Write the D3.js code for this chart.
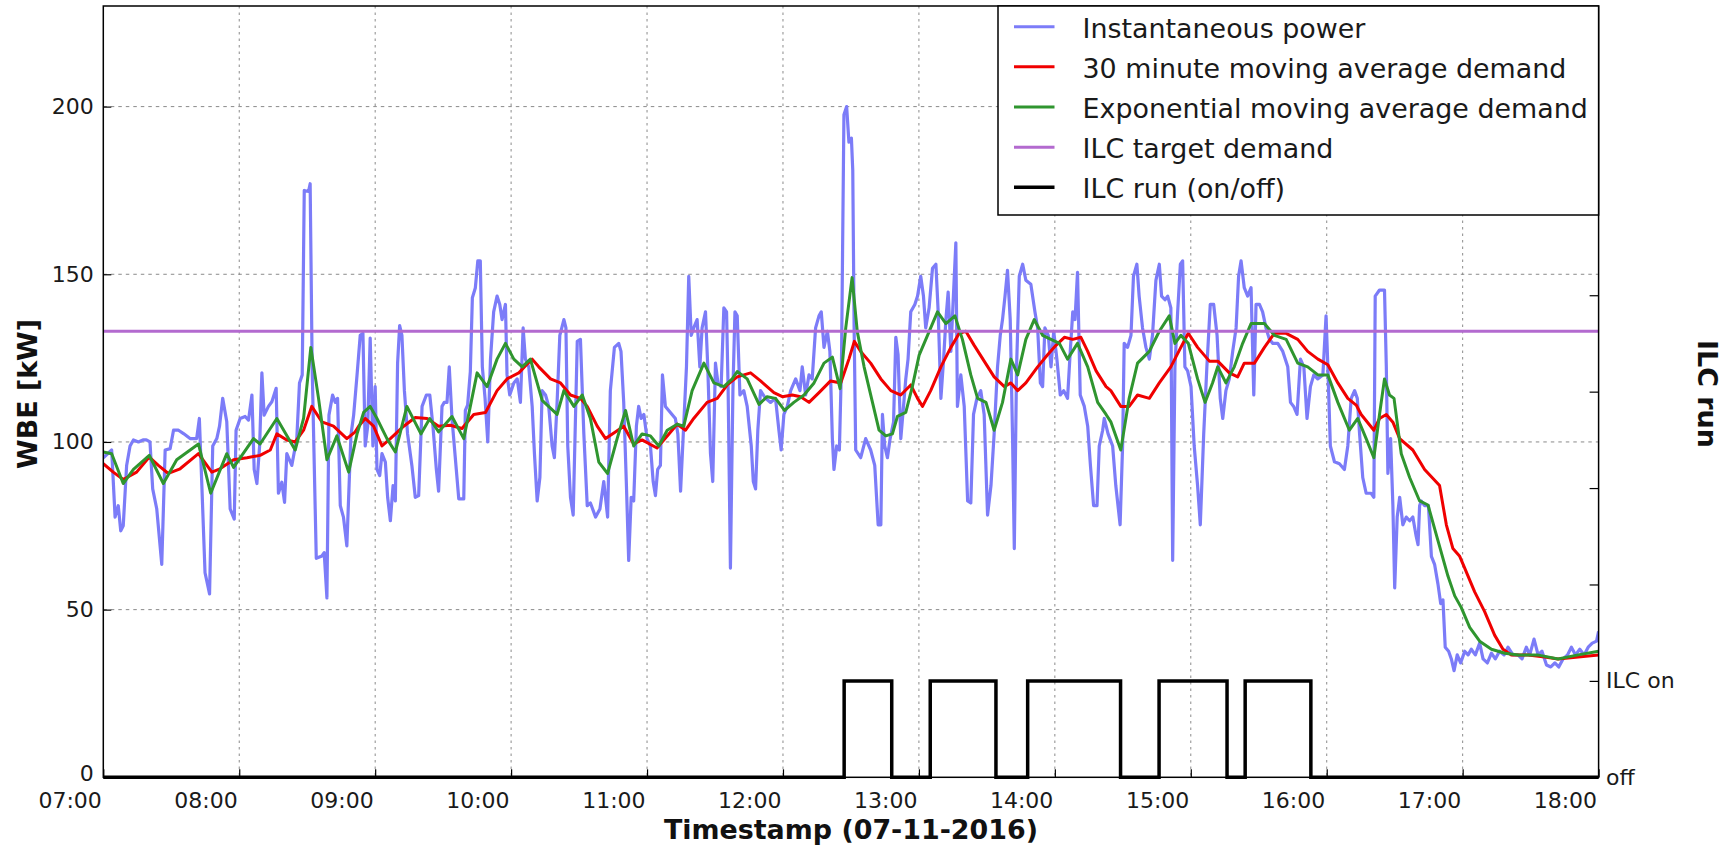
<!DOCTYPE html>
<html><head><meta charset="utf-8">
<script src="https://cdn.jsdelivr.net/npm/d3@7"></script>
<style>body{margin:0;background:#fff} text{font-family:"DejaVu Sans",sans-serif}</style>
</head><body>
<svg id="c" width="1729" height="848"></svg>
<script>
// ---- data (time = minutes after 07:00, value = kW) ----
const powerSeries = [[0,95.3],[3.7,97.6],[5.2,77.6],[6.6,81],[7.7,73.5],[8.8,75],[10.3,93],[11.8,98.8],[13.3,100.6],[15.5,100],[17.5,100.6],[19,100.6],[20.6,100],[21.8,86],[23.6,80],[25.8,63.5],[27.3,97.6],[29.5,98],[31,103.5],[33.2,103.5],[35.4,102.5],[38.3,101],[41.2,101],[42.4,107],[43.5,87],[44.9,61],[46.9,54.7],[48.3,98.8],[50.1,101],[51.3,104.7],[52.7,113],[54.5,106],[56,80],[57.8,77],[58.6,103.5],[60.4,107],[62.6,107.6],[64.1,106.5],[65.6,114],[66.6,91.8],[67.8,87.6],[69,98.8],[70,120.6],[71,108],[72.9,110.6],[74.4,112],[76.3,116],[77.3,84.7],[78.8,88],[80,82],[81,96.5],[83.2,93],[85.4,101],[86.6,117.6],[87.8,120],[88.7,175],[90.6,174.7],[91.3,177],[92.2,122],[94,65.3],[96.5,66],[97.5,67],[98.7,53.5],[99.6,108],[101.2,114],[102.4,111.8],[103.4,113],[104.6,81],[106,77.6],[107.5,69],[109.3,102],
[110.5,108],[112,120],[113.4,131.8],[114.6,132.4],[115.6,98.8],[116.7,104.7],[117.8,131],[119,98.8],[120,116.5],[120.8,91.8],[122,90],[123,96.5],[124.5,94],[125.5,83.5],[126.7,76.5],[127.9,87],[128.9,82.4],[129.9,123.5],[130.8,134.7],[131.8,131.8],[132.9,115.3],[134.3,102.4],[136.2,93],[137.7,83.5],[139.2,84],[140.7,110.6],[142.6,114],[144.1,114],[145.5,104.7],[147,91.8],[148,85.3],[149.5,110.6],[150.5,111.8],[151.7,111.8],[152.7,122.4],[153.9,107],[155.8,91.8],[156.9,83],[159.1,83],[159.8,109.4],[160.8,111],[162,121],[162.9,143],[164.2,145.9],[165.3,154],[166.4,154],[167.3,122.4],[168.5,113],[169.7,100],[170.9,124.7],[172.3,138.8],[173.8,143.5],[175,141],[176,136.5],[177.5,141],[178.2,120],[179.4,114],[181.2,117.6],[182.7,118.8],[184.1,111.8],[185.3,134],[186.3,124.7],[187.8,122.4],[189.3,110.6],[190.3,96.5],[191.5,82.4],[192.7,89.4],[193.7,115.3],[195.2,114],[196.6,110.6],[198.1,98.8],[199.1,95.3],[200.3,111.8],[201.5,131.8],[203.3,136.5],[204.2,134],[205,98.8],[206.2,83.5],[207.4,78.2],[208.4,107],[209.2,130],[210.6,130.6],[212.1,102.4],[213.6,81],[215,81.8],[217.3,77.6],[219.2,80],[220.9,88.2],[222.6,77.6],
[223.8,115.3],[225.6,128.2],[227.5,129.4],[228.5,127],[229.7,111.8],[230.9,87],[231.9,64.7],[233,83.5],[234.1,82.4],[235.3,104.7],[236.3,110.6],[237.4,107],[238.6,108.2],[240,101],[241.5,98.8],[242.7,88.2],[243.7,84],[244.7,91.8],[245.9,93],[246.8,120],[248.1,110.6],[250.3,108.8],[252.5,107],[253.6,102.4],[254.8,85.3],[255.9,101],[257.4,122.4],[258.4,149.4],[259.5,131.8],[260.6,134],[262.1,136.5],[263.3,122.4],[264.3,134],[265.8,138.8],[266.8,122.4],[268,96.5],[269,88.2],[270.2,123.5],[271.3,117.6],[272.7,116.5],[273.9,140],[275.1,138.8],[275.8,115.3],[276.8,62.4],[277.9,115.3],[278.8,138.8],[279.8,137.6],[281,114],[282.7,115.3],[284.2,110.6],[286,98.8],[286.9,88.2],[287.9,86],[288.9,103.5],[290.1,115.3],[292.3,113],[294.5,111.8],[296.7,113],[298.2,103.5],[299.2,97.6],[300.4,108.2],[301.9,110.6],[303.4,115.3],[305.6,118.8],[307.5,115.3],[308.5,122.4],[310,114],[311.5,120],[312.9,118.8],[314.4,134],[315.9,137.6],[316.9,138.8],[318.1,128.2],[319.6,133],[320.7,127],[321.8,101],[322.5,91.8],[323.7,98.8],[324.9,97.6],[325.8,122.4],[326.9,197.6],[328.1,200],[329.1,189.4],[330.2,190.6],[330.8,181],
[331.4,134],[332.1,97.6],[334.3,95.3],[336.5,101],[338.7,97.6],[340.5,93],[342,75.3],[343.2,75.3],[343.9,108.2],[344.9,98.8],[346.1,95.3],[347.3,101],[348.8,105.9],[349.8,131.2],[350.8,126],[352,101],[353.2,110.6],[354.2,118.8],[355.2,124.7],[356.4,138.8],[358.2,141],[359.4,143.5],[360.8,149.4],[362,143.5],[363,134],[364.5,140],[366,151.8],[367.5,153],[368.5,138.8],[369.7,113],[370.9,124.7],[371.9,136.5],[372.9,144.7],[374.1,127],[375.3,144.7],[376.3,159.4],[377,110.6],[378.5,120],[380,110.6],[381.5,82.4],[382.9,81.8],[384.1,108.2],[385.6,113],[387.3,115.3],[388.8,108.2],[390.3,78.2],[391.8,87],[393.2,102.4],[394.7,122.4],[395.9,131.8],[396.9,136.5],[398,143.5],[399.1,151.2],[400.3,136.5],[401.3,102.4],[402.1,68.2],[403.1,122.4],[404.3,149.4],[405.8,153],[407.2,148.2],[409.4,147],[411.2,138.8],[412.4,134],[413.6,117.6],[414.6,116.5],[415.6,134],[417.1,131.8],[418.3,122.4],[419.5,133],[420.9,124.7],[422.4,114],[423.9,115.3],[425.6,113],[426.8,127],[427.9,138.8],[428.9,136.5],[430,150.6],[431.2,114],[433,110.6],[434.5,104.7],[435.7,93],[437.1,81],[438.6,81],[439.6,98.8],[441.1,103.5],
[441.8,107],[443.5,102.4],[445.5,98.8],[446.9,87],[448.8,75.3],[449.9,98.8],[450.6,129.4],[452.1,128.2],[453.6,131.8],[454.7,149.4],[456.2,153],[457.2,143.5],[458.7,134],[460.2,128.2],[461.7,124.7],[463.1,131.8],[464.6,148.2],[466.1,153],[467.1,143.5],[468.6,142.4],[469.8,143.5],[471.2,140],[472,64.7],[473,122.4],[474.2,138.8],[475.4,153],[476.4,154],[477.4,122.4],[478.6,121.2],[480.1,116.5],[481.5,98.8],[483,87],[484.2,75.3],[485.7,102.4],[487.1,122.4],[488.6,141],[490.1,141],[491.6,131.8],[493,113],[494.1,107],[495.5,115.3],[497,118.8],[498.5,127],[500,134],[501.1,149.4],[502.2,154],[503.6,146],[505.1,143.5],[506.6,146],[507.8,114],[508.8,141],[510.3,141],[511.7,138.8],[513.2,134],[514.7,130.6],[516.2,129.4],[518.4,129.4],[520.6,127],[522.8,122.4],[524,111.8],[525.4,110.6],[526.9,108.2],[528.4,124.7],[529.9,122.4],[531.3,107],[532.8,116.5],[534.3,120],[536,118.8],[538.3,120],[539.7,137.6],[540.5,122.4],[541.6,98.8],[543.4,94.1],[545.6,93.5],[547.8,91.8],[549.3,98.8],[550.8,113],
[552.3,115.3],[553.5,113],[554.5,102.4],[555.9,89.4],[557.4,84.7],[559.6,84.7],[560.8,83.5],[561.4,143.5],[563.3,145.3],[565.5,145.3],[566.3,122.4],[567,90.6],[568.2,101],[569.2,81],[570,56.5],[571.1,77.6],[572.2,83.5],[573.6,75.3],[575.1,77.6],[576.6,76.5],[578,77.6],[579.5,71.8],[580.3,69.4],[581,81],[581.7,82.4],[583.2,81],[584.9,81],[586.2,65.9],[587.6,63.5],[589.1,57.6],[590.3,51.8],[591.3,52.9],[592.3,38.8],[593.8,37.6],[595,35.3],[596.2,31.8],[597.6,36.5],[599.1,34.1],[600.9,37.6],[602.4,36.5],[603.8,38.2],[605.6,36.5],[607.5,40],[609,35.3],[610.9,34.1],[612.7,37],[614.4,35.3],[616.3,37.6],[618.3,36.5],[620,38.8],[622.2,36.5],[624.4,36.5],[626.2,35.3],[628.1,38.8],[629.6,36.5],[631.5,41.2],[633.3,36.5],[635,37.6],[637,33.5],[638.9,32.9],[640.7,34.1],[642.4,32.9],[644.3,35.3],[646.3,36.5],[648,38.8],[649.8,36.5],[651.7,38.2],[653.6,36.5],[655.4,38.8],[657.2,40],[659.1,40.6],[660,43.5]];

const avg30Series = [[0,93.5],[4.4,91],[8.8,88.8],[14.7,91],[20.3,95.5],[24.3,93],[28.7,90.6],[33.9,92],[42,96.5],[47.9,91],[51.5,92],[57.5,94.7],[63.4,95.3],[69.2,96],[73.7,97.6],[76.6,102.4],[81,100.6],[84.7,100],[88.4,103.5],[92,110.6],[96.5,106],[101.6,104.7],[107.5,101],[111.2,103],[112.7,104.7],[115.6,107],[119.3,104.7],[123,98.8],[126.7,101],[132.6,104.7],[137.7,107.3],[142.9,107],[148,104.7],[153.2,105],[158.3,104],[163.5,108.2],[168.7,108.8],[173.8,115.3],[178.2,118.8],[183.4,120.6],[186.8,123],[189.3,124.7],[192.2,122.4],[197.4,118.8],[201.8,117.6],[206.2,114],[210.6,113],[213.6,110.6],[218,104.7],[221.7,101],[226,103],[229.7,104.7],[234.1,99.4],[237.8,100.6],[244.4,98.2],[248.9,101.8],[253.3,105.3],[257,103.5],[260.6,107],[266.5,111.8],[271,113],[275.4,117],[279.8,119.4],[285.7,120.6],[290.1,118.2],[296,114.7],[299.7,113.5],[304.1,114],[307.8,113.5],[311.5,111.8],[315.9,114.7],[321,118.2],[325.5,117.6],[329.1,124.7],[331.5,130],[334.3,127],[338.7,123.5],[343.2,118.8],[347.6,115.3],[352,114],[356.4,117],[359.4,113],[361.6,110.6],[365.2,115.3],[369.7,122.4],[374.1,128.2],[377.8,132.4],[380.7,133],[384.4,128.8],[388.8,124.1],[393.2,119.4],[397.7,116.5],[400.6,117.6],[403.6,115.3],[407.2,117.6],[412.4,122.4],[416.8,126],[420.5,128.8],[424.2,131.2],[427.9,130.6],[431.5,131.2],[434.5,127],[438.2,121.2],[442.6,116.5],[444.7,115.3],[449.1,110.6],[452.8,110.6],[456.5,114],[461.7,113],[466.1,117.6],[471.2,122.4],[475.6,128.2],[478.9,132.4],[483,128.2],[488.2,124.1],[491.9,124.1],[497,120.6],[500.7,119.4],[503.6,123.5],[508.1,123.5],[512.5,128.2],[516.9,132.4],[522.1,132.4],[527.2,130.6],[531.6,127],[536.1,124.7],[540.5,123],[544.9,117.6],[549.3,113],[553,111],[555.2,108.2],[560.8,103.5],[563.3,107],[566.3,108.2],[569.2,105.9],[572.2,101],[578,97.6],[583.2,91.8],[589.8,87],[592.8,75.3],[595.7,68.2],[598.7,65.9],[600.9,62.4],[605.3,55.3],[609.7,49.4],[614.1,42.4],[617.8,38.2],[621.5,36.5],[628.9,36.5],[636.2,35.9],[642.1,35.3],[651,35.9],[660,36.5]];

const emaSeries = [[0,97],[3.7,96.5],[8.8,87.6],[13.3,91.8],[20.3,96],[26.5,87.6],[32.4,94.7],[42,99.4],[47.4,84.7],[54.5,96.5],[57.5,92.4],[66.3,101],[69.2,99.4],[76.6,107],[84.7,97.6],[88.4,107],[91.6,128.2],[95,113],[98.7,94.7],[103.1,101.8],[108.3,91],[112,102.4],[114.9,108.8],[117.8,110.6],[120.8,107],[125.2,101],[128.9,97],[134,110.6],[140.2,102.4],[144.1,107],[148,103],[153.9,107.6],[159.1,101],[165,120.6],[169.4,116.5],[173.8,124.7],[177.5,129.4],[181.2,124.7],[184.9,122.4],[188.5,124.7],[193.7,112.4],[200.3,108.2],[203.3,115.3],[207.7,110.6],[211.4,114],[215,107],[218.7,94],[222.6,90.6],[226.8,101],[230.5,109.4],[234.1,98.8],[237.8,102.4],[241.5,101.8],[245.2,98.8],[248.9,103.5],[253.3,105.3],[256.2,104.7],[259.9,115.3],[265.1,123.5],[269.5,117.6],[273.9,116.5],[277.6,118.8],[279.8,121],[284.2,118.8],[289.4,111.2],[293,113.5],[296.7,113],[300.7,109.4],[304.8,111.8],[309.3,114],[313.7,117.6],[318.1,123.5],[321.8,125.3],[325.2,115.9],[327.7,134],[330.5,149],[332.8,132.9],[335.8,122.4],[339.5,111.8],[342.4,103.5],[345.4,101.8],[348.3,102.4],[350.5,107.6],[354.2,108.8],[357.1,116.5],[360.1,125.9],[364.5,132.9],[368.2,138.8],[371.9,135.3],[375.9,137.6],[379.2,130.6],[382.9,120],[385.9,113],[389.6,111.8],[393.2,103.5],[396.9,111.8],[400.6,124.7],[403.6,120],[407.2,130.6],[410.9,136.5],[414.6,131.8],[418.3,130.6],[422,129.4],[425.6,124.7],[430,129.4],[434.5,122.4],[438.9,111.8],[442.6,108.2],[444.7,106],[449.1,97.6],[452.8,113],[456.5,123.5],[461.7,127],[466.1,133],[470.5,137.6],[473,129.4],[475.6,131.8],[478.9,129.4],[483,118.8],[486.3,111.8],[489.6,117.6],[491.9,122.4],[495.5,117.6],[499.2,122.4],[502.9,129.4],[506.6,135.3],[512.5,135.3],[516.9,131.8],[522.1,130.6],[527.2,123.5],[531.6,122.4],[536.1,120],[540.5,120],[544.9,111.8],[550,103.5],[553.7,107],[557.4,101],[560.8,95.3],[563.3,108.2],[565.5,118.8],[567.7,114],[569.7,113],[572.9,96.5],[576.6,89.4],[581,82.4],[584.7,81.2],[589.1,70.6],[593.5,60],[596.5,54.1],[599.4,50.6],[603.1,44.7],[607.5,40.6],[612.7,38.2],[618.6,37],[624.5,36.5],[633,36.5],[642.1,35.3],[651,36.5],[660,37.6]];

const targetDemand = 133;
const ilcTimes  = ["07:00","12:27","12:48","13:05","13:34","13:48","14:29","14:46","15:16","15:24","15:53","18:00"];
const ilcStates = [0,1,0,1,0,1,0,1,0,1,0,0];

const xTickLabels = ["07:00","08:00","09:00","10:00","11:00","12:00","13:00","14:00","15:00","16:00","17:00","18:00"];
const yTicks = [0,50,100,150,200];
const rightTicks = [0,1,2,3,4,5,6,7,8];
const rightTickLabels = ["off","ILC on","","","","","","",""];
const legendLabels = ["Instantaneous power","30 minute moving average demand","Exponential moving average demand","ILC target demand","ILC run (on/off)"];
const xTitle = "Timestamp (07-11-2016)";
const yTitle = "WBE [kW]";
const y2Title = "ILC run";

// ---- layout / styles ----
const L=103.3, R=1598.6, T=6, B=777.3;
const colors = {power:"#7c7cf8", avg:"#f00000", ema:"#2f952f", target:"#b36acf", ilc:"#000"};
const base = new Date(2016,6,11,7,0,0);
const toDate = m => new Date(base.getTime()+m*60000);
const toMin = s => { const p=s.split(":").map(Number); return p[0]*60+p[1]-420; };

const svg = d3.select("#c");
const x = d3.scaleTime().domain([toDate(0), toDate(660)]).range([L,R]);
const y = d3.scaleLinear().domain([0,230]).range([B,T]);
const y2 = d3.scaleLinear().domain([0,8]).range([B,T]);

svg.append("defs").append("clipPath").attr("id","clip")
  .append("rect").attr("x",L).attr("y",T).attr("width",R-L).attr("height",B-T);

// grid
const grid = svg.append("g");
grid.selectAll("line.v").data(xTickLabels.slice(1,-1)).join("line")
  .attr("x1",d=>x(toDate(toMin(d)))).attr("x2",d=>x(toDate(toMin(d))))
  .attr("y1",T).attr("y2",B)
  .attr("stroke","#8a8a8a").attr("stroke-width",1).attr("stroke-dasharray","2.5,4");
grid.selectAll("line.h").data(yTicks.slice(1)).join("line")
  .attr("x1",L).attr("x2",R).attr("y1",d=>y(d)).attr("y2",d=>y(d))
  .attr("stroke","#8a8a8a").attr("stroke-width",1).attr("stroke-dasharray","3.5,4");

// series
const line = d3.line().x(d=>x(toDate(d[0]))).y(d=>y(d[1]));
const plot = svg.append("g").attr("clip-path","url(#clip)");
plot.append("path").datum(powerSeries).attr("d",line).attr("fill","none")
  .attr("stroke",colors.power).attr("stroke-width",3.2).attr("stroke-linejoin","round");
plot.append("path").datum(avg30Series).attr("d",line).attr("fill","none")
  .attr("stroke",colors.avg).attr("stroke-width",3).attr("stroke-linejoin","round");
plot.append("path").datum(emaSeries).attr("d",line).attr("fill","none")
  .attr("stroke",colors.ema).attr("stroke-width",3).attr("stroke-linejoin","round");
plot.append("path").datum([[0,targetDemand],[660,targetDemand]]).attr("d",line).attr("fill","none")
  .attr("stroke",colors.target).attr("stroke-width",3);

const ilcData = ilcTimes.map((t,i)=>({t:toDate(toMin(t)), s:ilcStates[i]}));
const stepLine = d3.line().curve(d3.curveStepAfter).x(d=>x(d.t)).y(d=>y2(d.s));
svg.append("path").datum(ilcData).attr("d",stepLine).attr("fill","none")
  .attr("stroke",colors.ilc).attr("stroke-width",3.5);

// axes
const styleAxis = (g, size) => {
  g.select(".domain").remove();
  g.selectAll(".tick line").attr("stroke","#000").attr("stroke-width",1.2);
  g.selectAll(".tick text").attr("font-size",size).attr("fill","#1a1a1a")
   .attr("font-family","DejaVu Sans");
};
const gl = svg.append("g").attr("transform",`translate(${L},0)`)
  .call(d3.axisLeft(y).tickValues(yTicks).tickSizeInner(-8).tickSizeOuter(0).tickPadding(9.5));
styleAxis(gl,22);
gl.selectAll(".tick text").filter(d=>d===0).attr("dy","0.16em");

const gb = svg.append("g").attr("transform",`translate(0,${B})`)
  .call(d3.axisBottom(x).tickValues(xTickLabels.map(s=>toDate(toMin(s))))
    .tickFormat((d,i)=>xTickLabels[i]).tickSizeInner(-8).tickSizeOuter(0));
styleAxis(gb,22);
gb.selectAll(".tick text").attr("text-anchor","end").attr("x",-2).attr("y",30.5).attr("dy",0);

const gr = svg.append("g").attr("transform",`translate(${R},0)`)
  .call(d3.axisRight(y2).tickValues(rightTicks).tickFormat((d,i)=>rightTickLabels[i])
    .tickSizeInner(-9).tickSizeOuter(0).tickPadding(7.5));
styleAxis(gr,22);

// frame
svg.append("rect").attr("x",L).attr("y",T).attr("width",R-L).attr("height",B-T)
  .attr("fill","none").attr("stroke","#000").attr("stroke-width",1.5);

// titles
svg.append("text").attr("x",(L+R)/2).attr("y",839).attr("text-anchor","middle")
  .attr("font-size",26.9).attr("font-weight","bold").attr("fill","#111").text(xTitle);
svg.append("text").attr("transform","translate(27,394) rotate(-90)").attr("dy","0.36em")
  .attr("text-anchor","middle").attr("font-size",26.9).attr("font-weight","bold").attr("fill","#111").text(yTitle);
svg.append("text").attr("transform","translate(1708,394) rotate(90)").attr("dy","0.36em")
  .attr("text-anchor","middle").attr("font-size",26.9).attr("font-weight","bold").attr("fill","#111").text(y2Title);

// legend
const lg = svg.append("g");
lg.append("rect").attr("x",998).attr("y",T).attr("width",R-998).attr("height",209)
  .attr("fill","#fff").attr("stroke","#000").attr("stroke-width",1.5);
const legColors = [colors.power,colors.avg,colors.ema,colors.target,colors.ilc];
const rows = lg.selectAll("g.row").data(legendLabels).join("g")
  .attr("transform",(d,i)=>`translate(0,${26.7+i*40.15})`);
rows.append("line").attr("x1",1014).attr("x2",1054.5).attr("y1",0).attr("y2",0)
  .attr("stroke",(d,i)=>legColors[i]).attr("stroke-width",(d,i)=>i===4?3.5:3);
rows.append("text").attr("x",1082.5).attr("y",11).attr("font-size",26.9).attr("fill","#1a1a1a").text(d=>d);
</script>
</body></html>
